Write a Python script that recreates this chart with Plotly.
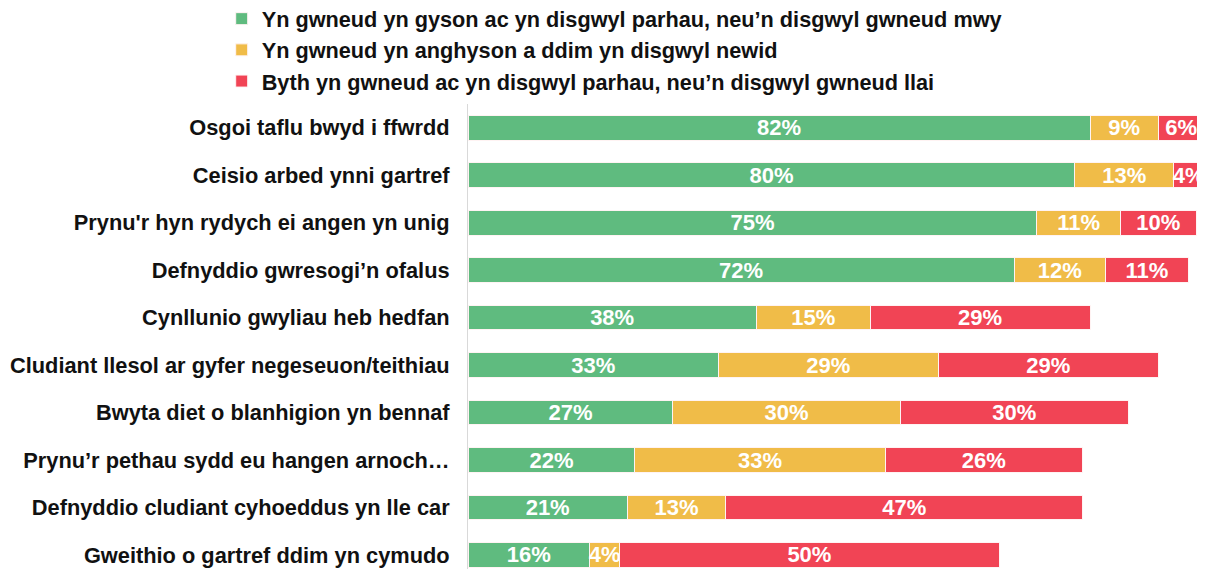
import plotly.graph_objects as go

categories = [
    "Osgoi taflu bwyd i ffwrdd",
    "Ceisio arbed ynni gartref",
    "Prynu'r hyn rydych ei angen yn unig",
    "Defnyddio gwresogi’n ofalus",
    "Cynllunio gwyliau heb hedfan",
    "Cludiant llesol ar gyfer negeseuon/teithiau",
    "Bwyta diet o blanhigion yn bennaf",
    "Prynu’r pethau sydd eu hangen arnoch…",
    "Defnyddio cludiant cyhoeddus yn lle car",
    "Gweithio o gartref ddim yn cymudo",
]
series_names = [
    "Yn gwneud yn gyson ac yn disgwyl parhau, neu’n disgwyl gwneud mwy",
    "Yn gwneud yn anghyson a ddim yn disgwyl newid",
    "Byth yn gwneud ac yn disgwyl parhau, neu’n disgwyl gwneud llai",
]
consistent = [82, 80, 75, 72, 38, 33, 27, 22, 21, 16]
inconsistent = [9, 13, 11, 12, 15, 29, 30, 33, 13, 4]
never = [6, 4, 10, 11, 29, 29, 30, 26, 47, 50]
colors = ["#5FBB7F", "#F0BC48", "#F14455"]

FONT = "Liberation Sans, Arial, sans-serif"

fig = go.Figure()
for name, vals, col in zip(series_names, [consistent, inconsistent, never], colors):
    fig.add_trace(go.Bar(
        y=categories, x=vals, name=name, orientation="h",
        marker=dict(color=col, line=dict(color="#FFF3F3", width=1)),
        text=[f"{v}%" for v in vals], textposition="inside",
        insidetextanchor="middle", textangle=0, constraintext="none",
        textfont=dict(family=FONT, size=22, color="white", weight="bold"),
        hoverinfo="skip",
    ))

fig.update_layout(
    barmode="stack",
    bargap=0.48,
    width=1205, height=569,
    margin=dict(l=460, r=0, t=96, b=0, autoexpand=False),
    paper_bgcolor="white", plot_bgcolor="white",
    font=dict(family=FONT, size=21, color="#111111"),
    showlegend=True,
    legend=dict(
        xref="paper", yref="paper", x=-0.3306, y=1.224,
        xanchor="left", yanchor="top",
        orientation="v", traceorder="normal",
        font=dict(family=FONT, size=21.7, color="#111111", weight="bold"),
        itemwidth=30, bgcolor="rgba(0,0,0,0)",
    ),
    xaxis=dict(range=[0, 98.2], visible=False, fixedrange=True),
    yaxis=dict(
        categoryorder="array", categoryarray=categories,
        range=[9.464, -0.5], automargin=False,
        showline=True, linecolor="#D9D9D9", linewidth=1,
        showgrid=False, ticks="", ticklabelstandoff=13,
        tickfont=dict(family=FONT, size=21.8, color="#111111", weight="bold"),
    ),
)

fig.write_html("out.html")
